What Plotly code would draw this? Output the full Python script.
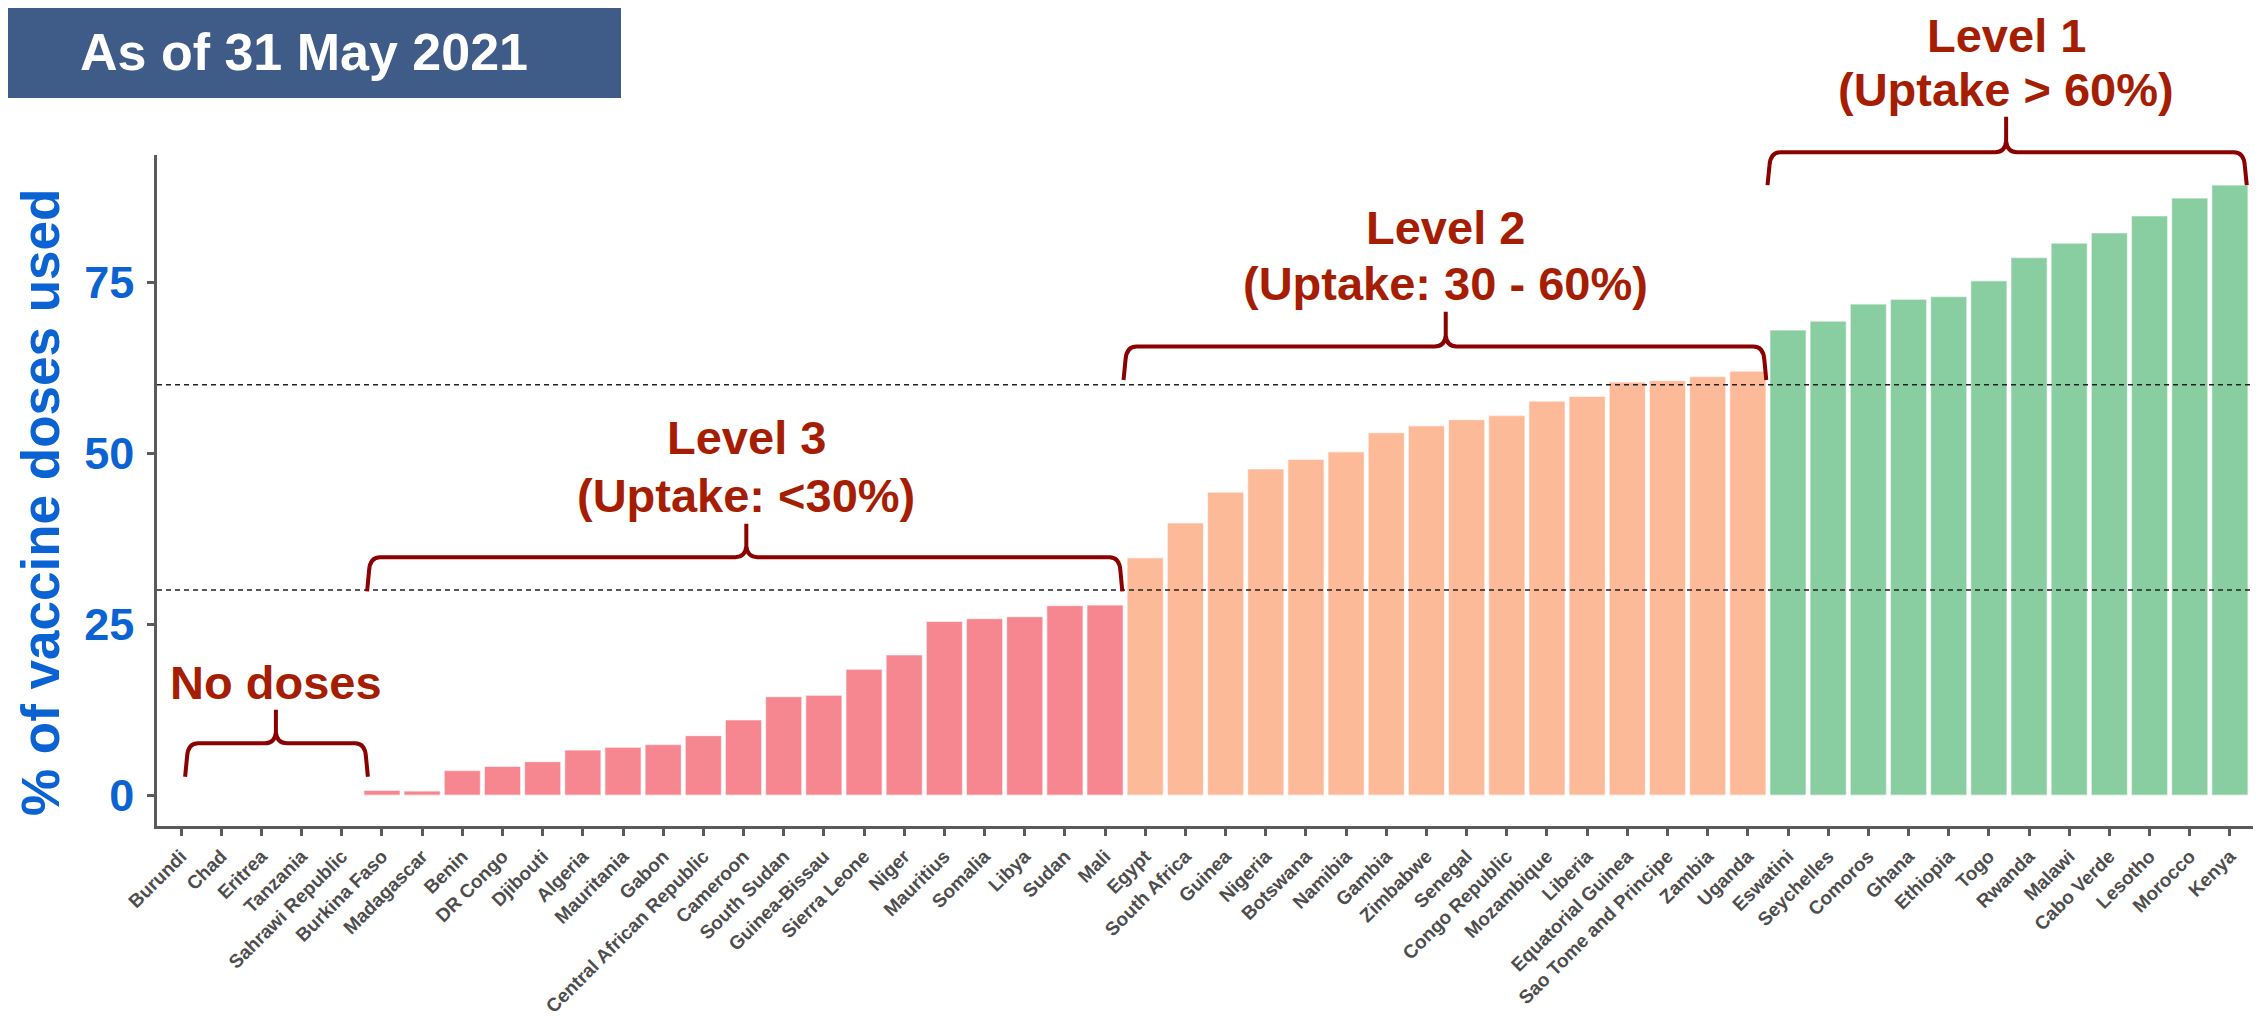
import plotly.graph_objects as go

# ---------------- data ----------------
countries = [
    "Burundi", "Chad", "Eritrea", "Tanzania", "Sahrawi Republic", "Burkina Faso",
    "Madagascar", "Benin", "DR Congo", "Djibouti", "Algeria", "Mauritania", "Gabon",
    "Central African Republic", "Cameroon", "South Sudan", "Guinea-Bissau",
    "Sierra Leone", "Niger", "Mauritius", "Somalia", "Libya", "Sudan", "Mali",
    "Egypt", "South Africa", "Guinea", "Nigeria", "Botswana", "Namibia", "Gambia",
    "Zimbabwe", "Senegal", "Congo Republic", "Mozambique", "Liberia",
    "Equatorial Guinea", "Sao Tome and Principe", "Zambia", "Uganda",
    "Eswatini", "Seychelles", "Comoros", "Ghana", "Ethiopia", "Togo", "Rwanda",
    "Malawi", "Cabo Verde", "Lesotho", "Morocco", "Kenya",
]
uptake = [
    0, 0, 0, 0, 0, 0.7,
    0.6, 3.6, 4.2, 4.9, 6.6, 7.0, 7.4,
    8.7, 11.0, 14.4, 14.6,
    18.4, 20.5, 25.4, 25.8, 26.1, 27.7, 27.8,
    34.7, 39.8, 44.3, 47.7, 49.1, 50.2, 53.0,
    54.0, 54.9, 55.5, 57.6, 58.3,
    60.4, 60.6, 61.2, 62.0,
    68.0, 69.3, 71.8, 72.5, 72.9, 75.2, 78.6,
    80.7, 82.2, 84.7, 87.3, 89.2,
]
level = [3] * 24 + [2] * 16 + [1] * 12
level_colors = {3: "#F6868F", 2: "#FDBA99", 1: "#89CEA0"}
thresholds = [30, 60]
y_ticks = [0, 25, 50, 75]

# ---------------- layout geometry (reference pixel coords) ----------------
OFF = 8                      # default page body margin
WIN_W, WIN_H = 2261, 1021
W, H = WIN_W - OFF, WIN_H - OFF
PL, PR, PT, PB = 157, 2254, 155, 826
X_RANGE = [-0.6, 51.6]
Y_RANGE = [-4.5, 93.6]

def dx_to_px(x):
    return PL + (x - X_RANGE[0]) / (X_RANGE[1] - X_RANGE[0]) * (PR - PL)

def dy_to_py(y):
    return PB - (y - Y_RANGE[0]) / (Y_RANGE[1] - Y_RANGE[0]) * (PB - PT)

def pxp(px):
    return (px - PL) / (PR - PL)

def pyp(py):
    return (PB - py) / (PB - PT)

BRACE_COLOR = "#8B0000"
TEXT_COLOR = "#A51D02"
BLUE = "#0B62D3"
FONT = "Liberation Sans, Arial, sans-serif"

fig = go.Figure()
fig.add_trace(go.Bar(
    x=countries, y=uptake,
    marker=dict(color=[level_colors[l] for l in level],
                line=dict(color="rgba(255,255,255,0.55)", width=1.2)),
    width=0.9, showlegend=False, hoverinfo="x+y",
))

shapes = []
for t in thresholds:
    shapes.append(dict(type="line", xref="paper", yref="y", x0=0, x1=1, y0=t, y1=t,
                       line=dict(color="#222222", width=1.5, dash="5px,4px"), layer="above"))

# title box
shapes.append(dict(type="rect", xref="paper", yref="paper",
                   x0=pxp(0), x1=pxp(621), y0=pyp(98), y1=pyp(0),
                   fillcolor="#3F5B88", line=dict(width=0)))

# braces: (x_left, x_right, x_center, y_end, y_line, y_peak) in data units
braces = [
    (0.10, 4.65, 2.36, 2.7, 7.6, 12.5),
    (4.63, 23.43, 14.07, 29.8, 34.8, 39.7),
    (23.46, 39.46, 31.48, 60.7, 65.6, 70.7),
    (39.49, 51.42, 45.43, 89.2, 94.0, 99.2),
]

def brace_path(xl, xr, xc, ye, yl, yp):
    xl, xr, xc = dx_to_px(xl), dx_to_px(xr), dx_to_px(xc)
    ye, yl, yp = dy_to_py(ye), dy_to_py(yl), dy_to_py(yp)
    r, m = 13, 11
    pts = [
        ("M", [(xl, ye)]), ("L", [(xl + 2, yl + r)]), ("Q", [(xl + 3, yl), (xl + r, yl)]),
        ("L", [(xc - m, yl)]), ("Q", [(xc - 1, yl), (xc, yl - m)]), ("L", [(xc, yp)]),
        ("M", [(xc, yl - m)]), ("Q", [(xc + 1, yl), (xc + m, yl)]),
        ("L", [(xr - r, yl)]), ("Q", [(xr - 3, yl), (xr - 2, yl + r)]), ("L", [(xr, ye)]),
    ]
    s = ""
    for cmd, ps in pts:
        s += cmd + " " + " ".join(f"{pxp(a):.5f},{pyp(b):.5f}" for a, b in ps) + " "
    return s.strip()

for b in braces:
    shapes.append(dict(type="path", xref="paper", yref="paper", path=brace_path(*b),
                       line=dict(color=BRACE_COLOR, width=4)))

annotations = []

def add_text(text, x_px, baseline_py, size, color):
    cy = baseline_py - 0.3465 * size
    annotations.append(dict(text=text, xref="paper", yref="paper", x=pxp(x_px), y=pyp(cy),
                            xanchor="center", yanchor="middle", showarrow=False, borderpad=0,
                            font=dict(family=FONT, size=size, color=color, weight="bold")))

labels = [
    (["No doses"], 2.36, [699]),
    (["Level 3", "(Uptake: <30%)"], 14.07, [454, 511.7]),
    (["Level 2", "(Uptake: 30 - 60%)"], 31.48, [243.3, 300]),
    (["Level 1", "(Uptake > 60%)"], 45.43, [52, 106]),
]
for lines, xc, bls in labels:
    for line, bl in zip(lines, bls):
        add_text(line, dx_to_px(xc), bl, 47, TEXT_COLOR)

add_text("As of 31 May 2021", 304, 70, 52, "white")

annotations.append(dict(text="% of vaccine doses used", textangle=-90, xref="paper", yref="paper",
                        x=pxp(40), y=pyp(503), xanchor="center", yanchor="middle",
                        showarrow=False,
                        font=dict(family=FONT, size=53, color=BLUE, weight="bold")))

fig.update_layout(
    width=W, height=H,
    margin=dict(l=PL - OFF, r=WIN_W - PR, t=PT - OFF, b=WIN_H - PB),
    paper_bgcolor="white", plot_bgcolor="white",
    shapes=shapes, annotations=annotations,
    xaxis=dict(range=X_RANGE, showline=True, linecolor="#5A5A5A", linewidth=2.5,
               ticks="outside", ticklen=7, tickwidth=2.5, tickcolor="#5A5A5A",
               tickangle=-45, showgrid=False, zeroline=False, automargin=False,
               ticklabelstandoff=2,
               tickfont=dict(family=FONT, size=19, color="#4D4D4D", weight="bold")),
    yaxis=dict(range=Y_RANGE, showline=True, linecolor="#5A5A5A", linewidth=2.5,
               ticks="outside", ticklen=7, tickwidth=2.5, tickcolor="#5A5A5A",
               tickvals=y_ticks, showgrid=False, zeroline=False, automargin=False,
               ticklabelstandoff=4,
               tickfont=dict(family=FONT, size=45, color=BLUE, weight="bold")),
)

fig.write_html("out.html")
